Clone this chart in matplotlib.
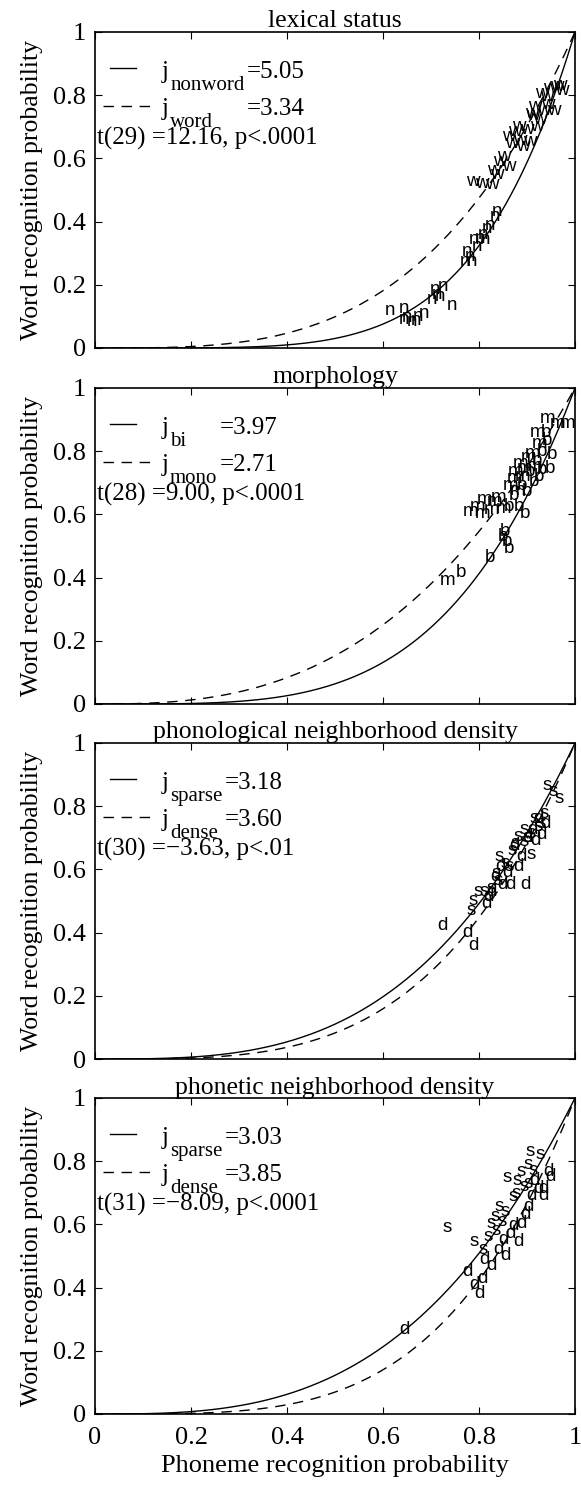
import numpy as np
import matplotlib
matplotlib.use("Agg")
import matplotlib.pyplot as plt

plt.rcParams['font.family'] = ['Liberation Serif', 'DejaVu Serif']

# ---------------- data ----------------
titles = ["lexical status", "morphology",
          "phonological neighborhood density", "phonetic neighborhood density"]

# exponents j (solid curve first, dashed second)
solid_names = ["nonword", "bi", "sparse", "sparse"]
solid_j = [5.05, 3.97, 3.18, 3.03]
dashed_names = ["word", "mono", "dense", "dense"]
dashed_j = [3.34, 2.71, 3.60, 3.85]
t_texts = ["t(29) =12.16, p<.0001", "t(28) =9.00, p<.0001",
           "t(30) =\u22123.63, p<.01", "t(31) =\u22128.09, p<.0001"]

# panel 1: lexical status
word_x = [0.773, 0.792, 0.812, 0.816, 0.830, 0.837, 0.847, 0.847, 0.861, 0.854,
          0.871, 0.878, 0.892, 0.896, 0.903, 0.913, 0.906, 0.920, 0.917, 0.927,
          0.934, 0.941, 0.948, 0.955, 0.958, 0.823, 0.868, 0.885, 0.899, 0.930]
word_y = [0.526, 0.521, 0.516, 0.563, 0.590, 0.605, 0.574, 0.669, 0.685, 0.648,
          0.658, 0.637, 0.653, 0.743, 0.764, 0.722, 0.700, 0.753, 0.806, 0.795,
          0.822, 0.753, 0.827, 0.832, 0.816, 0.548, 0.700, 0.690, 0.735, 0.770]
nonword_x = [0.604, 0.632, 0.632, 0.649, 0.663, 0.674, 0.691, 0.698, 0.708, 0.715,
             0.733, 0.760, 0.764, 0.774, 0.778, 0.792, 0.802, 0.805, 0.812, 0.823,
             0.826, 0.640, 0.657, 0.702, 0.770, 0.785, 0.797]
nonword_y = [0.120, 0.126, 0.089, 0.083, 0.099, 0.110, 0.152, 0.184, 0.162, 0.194,
             0.136, 0.273, 0.305, 0.273, 0.342, 0.347, 0.342, 0.379, 0.389, 0.416,
             0.431, 0.095, 0.086, 0.170, 0.290, 0.320, 0.360]

# panel 2: morphology
mono_x = [0.927, 0.948, 0.969, 0.910, 0.896, 0.878, 0.899, 0.858, 0.875, 0.865,
          0.795, 0.816, 0.767, 0.792, 0.809, 0.719, 0.835, 0.850, 0.870, 0.888,
          0.905, 0.780, 0.825, 0.860]
mono_y = [0.904, 0.889, 0.889, 0.825, 0.793, 0.746, 0.751, 0.714, 0.719, 0.677,
          0.646, 0.640, 0.609, 0.603, 0.614, 0.390, 0.620, 0.690, 0.760, 0.780,
          0.860, 0.625, 0.655, 0.735]
bi_x = [0.931, 0.920, 0.941, 0.920, 0.938, 0.903, 0.889, 0.851, 0.872, 0.885,
        0.844, 0.847, 0.851, 0.752, 0.813, 0.895, 0.910, 0.928, 0.862, 0.878,
        0.915, 0.840]
bi_y = [0.835, 0.799, 0.788, 0.741, 0.746, 0.704, 0.672, 0.625, 0.625, 0.603,
        0.545, 0.514, 0.493, 0.415, 0.465, 0.735, 0.770, 0.860, 0.660, 0.690,
        0.720, 0.530]

# panel 3: phonological neighborhood density
s3_x = [0.933, 0.944, 0.958, 0.927, 0.906, 0.920, 0.913, 0.885, 0.899, 0.872,
        0.885, 0.865, 0.898, 0.833, 0.844, 0.854, 0.826, 0.830, 0.788, 0.802,
        0.778, 0.773, 0.815, 0.860, 0.892]
s3_y = [0.864, 0.846, 0.825, 0.778, 0.762, 0.746, 0.735, 0.725, 0.714, 0.703,
        0.688, 0.683, 0.646, 0.640, 0.619, 0.609, 0.588, 0.566, 0.529, 0.529,
        0.503, 0.470, 0.540, 0.660, 0.700]
d3_x = [0.927, 0.920, 0.906, 0.878, 0.872, 0.885, 0.854, 0.837, 0.823, 0.833,
        0.809, 0.805, 0.712, 0.765, 0.777, 0.900, 0.912, 0.864, 0.848, 0.890,
        0.815]
d3_y = [0.746, 0.709, 0.693, 0.640, 0.609, 0.551, 0.551, 0.551, 0.577, 0.609,
        0.514, 0.493, 0.424, 0.400, 0.360, 0.725, 0.760, 0.675, 0.590, 0.700,
        0.530]

# panel 4: phonetic neighborhood density
s4_x = [0.896, 0.917, 0.892, 0.903, 0.878, 0.885, 0.892, 0.861, 0.868, 0.833,
        0.823, 0.844, 0.816, 0.826, 0.781, 0.809, 0.725, 0.850, 0.870, 0.800,
        0.838]
s4_y = [0.830, 0.820, 0.788, 0.772, 0.767, 0.719, 0.730, 0.688, 0.698, 0.656,
        0.624, 0.640, 0.603, 0.582, 0.545, 0.561, 0.589, 0.750, 0.740, 0.520,
        0.610]
d4_x = [0.934, 0.938, 0.924, 0.913, 0.924, 0.892, 0.885, 0.878, 0.861, 0.854,
        0.872, 0.840, 0.765, 0.780, 0.796, 0.790, 0.800, 0.633, 0.905, 0.830,
        0.815, 0.845, 0.898]
d4_y = [0.767, 0.751, 0.714, 0.714, 0.690, 0.656, 0.630, 0.603, 0.598, 0.572,
        0.545, 0.551, 0.450, 0.410, 0.430, 0.380, 0.490, 0.266, 0.740, 0.520,
        0.470, 0.500, 0.690]

groups = [
    [("w", word_x, word_y), ("n", nonword_x, nonword_y)],
    [("m", mono_x, mono_y), ("b", bi_x, bi_y)],
    [("s", s3_x, s3_y), ("d", d3_x, d3_y)],
    [("s", s4_x, s4_y), ("d", d4_x, d4_y)],
]

ticks = [0, 0.2, 0.4, 0.6, 0.8, 1]
tick_labels = ["0", "0.2", "0.4", "0.6", "0.8", "1"]

# ---------------- figure ----------------
fig = plt.figure(figsize=(5.81, 14.88), dpi=100)
left, width, height = 95 / 581, 480 / 581, 316 / 1488
bottoms = [1 - 348 / 1488, 1 - 704 / 1488, 1 - 1059 / 1488, 1 - 1414 / 1488]

FS = 18
SUB = 15
xc = np.linspace(0, 1, 400)
dash = (0, (7.5, 5.5))
for i in range(4):
    ax = fig.add_axes([left, bottoms[i], width, height])
    ax.set_xlim(0, 1)
    ax.set_ylim(0, 1)
    ax.plot(xc, xc ** solid_j[i], color='black', lw=1.0, ls='-')
    ax.plot(xc, xc ** dashed_j[i], color='black', lw=1.0, ls=dash)
    for letter, xs, ys in groups[i]:
        for xv, yv in zip(xs, ys):
            ax.text(xv, yv, letter, ha='left', va='center', fontsize=13.5,
                    family='Liberation Sans', color='black')
    # legend (manual, MATLAB style without box)
    ax.plot([0.031, 0.085], [0.887, 0.887], transform=ax.transAxes, color='black',
            lw=1.0, clip_on=False)
    ax.plot([0.017, 0.117], [0.766, 0.766], transform=ax.transAxes, color='black',
            lw=1.0, ls=dash, clip_on=False)
    fig.canvas.draw()
    inv = ax.transAxes.inverted()
    ends = []
    for yb, name in [(0.855, solid_names[i]), (0.737, dashed_names[i])]:
        tj = ax.text(0.140, yb, "j", transform=ax.transAxes, ha='left',
                     va='baseline', fontsize=FS)
        fig.canvas.draw()
        xj = inv.transform(tj.get_window_extent().get_points())[1, 0]
        ts = ax.text(xj + 0.002, yb - 0.038, name, transform=ax.transAxes,
                     ha='left', va='baseline', fontsize=SUB)
        fig.canvas.draw()
        ends.append(inv.transform(ts.get_window_extent().get_points())[1, 0])
    eqx = max(ends) + 0.004
    ax.text(eqx, 0.855, "=%.2f" % solid_j[i], transform=ax.transAxes,
            ha='left', va='baseline', fontsize=FS)
    ax.text(eqx, 0.737, "=%.2f" % dashed_j[i], transform=ax.transAxes,
            ha='left', va='baseline', fontsize=FS)
    ax.text(0.005, 0.645, t_texts[i], transform=ax.transAxes,
            ha='left', va='baseline', fontsize=FS)

    ax.set_title(titles[i], fontsize=18.5, pad=3)
    ax.set_xticks(ticks)
    ax.set_yticks(ticks)
    ax.set_yticklabels(tick_labels)
    if i == 3:
        ax.set_xticklabels(tick_labels)
        ax.set_xlabel("Phoneme recognition probability", fontsize=19, labelpad=5)
    else:
        ax.set_xticklabels([])
    ax.set_ylabel("Word recognition probability", fontsize=18.5, labelpad=7)
    ax.tick_params(direction='in', length=5, width=0.8, top=True, right=True,
                   labelsize=19)
    ax.tick_params(axis='y', pad=6.5)
    ax.tick_params(axis='x', pad=9)
    for sp in ax.spines.values():
        sp.set_linewidth(1.2)

fig.savefig("out.png", dpi=100)
